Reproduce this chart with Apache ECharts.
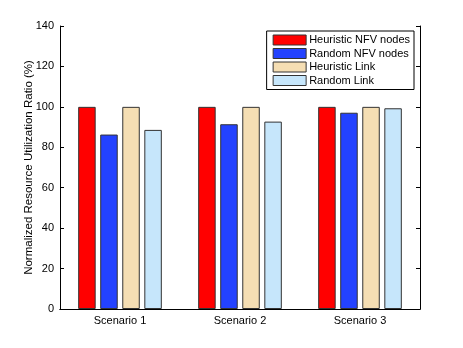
<!DOCTYPE html>
<html>
<head>
<meta charset="utf-8">
<script src="https://cdn.jsdelivr.net/npm/echarts@6/dist/echarts.min.js"></script>
<style>
  html, body { margin: 0; padding: 0; background: #fff; }
  #chart { width: 463px; height: 348px; }
</style>
</head>
<body>
<div id="chart"></div>
<script>
// data
var scenarios = ['Scenario 1', 'Scenario 2', 'Scenario 3'];
var heuristicNfv = [100, 100, 100];
var randomNfv = [86.3, 91.4, 97.1];
var heuristicLink = [100, 100, 100];
var randomLink = [88.6, 92.7, 99.3];
var seriesNames = ['Heuristic NFV nodes', 'Random NFV nodes', 'Heuristic Link', 'Random Link'];
var colors = ['#ff0000', '#2342ff', '#f5deb3', '#c6e6fb'];

var chart = echarts.init(document.getElementById('chart'));
var font = 'Liberation Sans, Arial, sans-serif';

function bar(i, data) {
  return {
    name: seriesNames[i],
    type: 'bar',
    data: data,
    barWidth: 17.5,
    barGap: '26%',
    itemStyle: { color: colors[i], borderColor: '#333', borderWidth: 1 }
  };
}

chart.setOption({
  animation: false,
  textStyle: { fontFamily: font },
  grid: { left: 60, right: 43, top: 26, bottom: 39 },
  legend: {
    right: 49,
    top: 31,
    orient: 'vertical',
    align: 'left',
    icon: 'rect',
    itemWidth: 33,
    itemHeight: 10,
    itemGap: 1.5,
    padding: [3, 4, 3, 6],
    backgroundColor: '#fff',
    borderColor: '#000',
    borderWidth: 1,
    borderRadius: 0,
    itemStyle: { borderColor: '#333', borderWidth: 1 },
    textStyle: { fontSize: 11, color: '#000', fontFamily: font, padding: [0, 0, 0, -2], lineHeight: 12 },
    data: seriesNames
  },
  xAxis: [{
    type: 'category',
    data: scenarios,
    axisLine: { lineStyle: { color: '#000' } },
    axisTick: { inside: true, alignWithLabel: true, length: 4, lineStyle: { color: '#000' } },
    axisLabel: { fontSize: 11, color: '#000', margin: 6 }
  }, {
    type: 'category',
    position: 'top',
    data: scenarios,
    axisLine: { lineStyle: { color: '#000' } },
    axisTick: { inside: true, alignWithLabel: true, length: 4, lineStyle: { color: '#000' } },
    axisLabel: { show: false }
  }],
  yAxis: [{
    type: 'value',
    min: 0,
    max: 140,
    interval: 20,
    name: 'Normalized Resource Utilization Ratio (%)',
    nameLocation: 'middle',
    nameGap: 25,
    nameMoveOverlap: false,
    nameTextStyle: { fontSize: 11.5, color: '#000' },
    axisLine: { show: true, lineStyle: { color: '#000' } },
    axisTick: { show: true, inside: true, length: 4, lineStyle: { color: '#000' } },
    axisLabel: { fontSize: 11, color: '#000', margin: 6 },
    splitLine: { show: false }
  }, {
    type: 'value',
    position: 'right',
    min: 0,
    max: 140,
    interval: 20,
    axisLine: { show: true, lineStyle: { color: '#000' } },
    axisTick: { show: true, inside: true, length: 4, lineStyle: { color: '#000' } },
    axisLabel: { show: false },
    splitLine: { show: false }
  }],
  series: [
    bar(0, heuristicNfv),
    bar(1, randomNfv),
    bar(2, heuristicLink),
    bar(3, randomLink)
  ]
});
</script>
</body>
</html>
